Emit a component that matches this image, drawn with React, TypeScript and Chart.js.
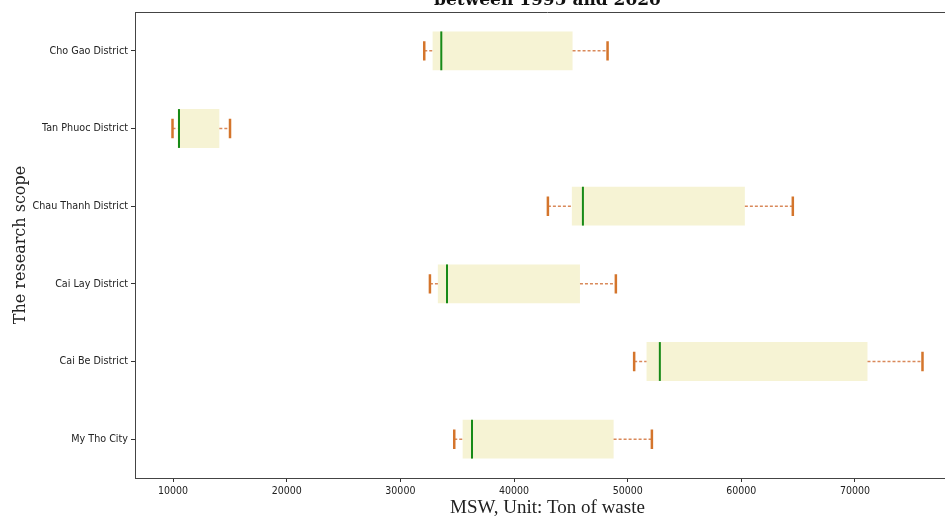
import React, { useEffect, useRef } from "react";
import { Chart, registerables } from "chart.js";

Chart.register(...registerables);

const categories = [
  "Cho Gao District",
  "Tan Phuoc District",
  "Chau Thanh District",
  "Cai Lay District",
  "Cai Be District",
  "My Tho City",
];
const whiskerLow = [32100, 9950, 42980, 32600, 50570, 34740];
const q1 = [32840, 10400, 45090, 33300, 51660, 35480];
const median = [33600, 10520, 46060, 34100, 52830, 36300];
const q3 = [45150, 14070, 60310, 45800, 71100, 48760];
const whiskerHigh = [48230, 15010, 64530, 48960, 75940, 52130];
const xTicks = [10000, 20000, 30000, 40000, 50000, 60000, 70000];

const titleLine = "between 1995 and 2020";
const xTitle = "MSW, Unit: Ton of waste";
const yTitle = "The research scope";

const boxPlugin = {
  id: "boxExtras",
  afterDatasetsDraw(chart: any) {
    const { ctx, scales, chartArea } = chart;
    const x = scales.x;
    const y = scales.y;
    const meta = chart.getDatasetMeta(0);
    ctx.save();
    categories.forEach((_, i) => {
      const bar = meta.data[i];
      const half = bar ? bar.height / 2 : 20;
      const cy = y.getPixelForValue(i);
      const xl = x.getPixelForValue(whiskerLow[i]);
      const x1 = x.getPixelForValue(q1[i]);
      const x3 = x.getPixelForValue(q3[i]);
      const xh = x.getPixelForValue(whiskerHigh[i]);
      const xm = x.getPixelForValue(median[i]);
      ctx.strokeStyle = "#d9895a";
      ctx.lineWidth = 1.5;
      ctx.setLineDash([3, 2]);
      ctx.beginPath();
      ctx.moveTo(xl, cy);
      ctx.lineTo(x1, cy);
      ctx.moveTo(x3, cy);
      ctx.lineTo(xh, cy);
      ctx.stroke();
      ctx.setLineDash([]);
      ctx.strokeStyle = "#d4752c";
      ctx.lineWidth = 2.5;
      ctx.beginPath();
      ctx.moveTo(xl, cy - half / 2);
      ctx.lineTo(xl, cy + half / 2);
      ctx.moveTo(xh, cy - half / 2);
      ctx.lineTo(xh, cy + half / 2);
      ctx.stroke();
      ctx.strokeStyle = "#178a17";
      ctx.lineWidth = 2;
      ctx.beginPath();
      ctx.moveTo(xm, cy - half);
      ctx.lineTo(xm, cy + half);
      ctx.stroke();
    });
    ctx.strokeStyle = "#444";
    ctx.lineWidth = 1;
    ctx.beginPath();
    ctx.moveTo(chartArea.left, chartArea.top + 0.5);
    ctx.lineTo(chartArea.right, chartArea.top + 0.5);
    ctx.moveTo(chartArea.right - 0.5, chartArea.top);
    ctx.lineTo(chartArea.right - 0.5, chartArea.bottom);
    ctx.stroke();
    ctx.fillStyle = "#111";
    ctx.font = "bold 17px 'DejaVu Serif'";
    ctx.textAlign = "center";
    ctx.textBaseline = "alphabetic";
    ctx.fillText(titleLine, (chartArea.left + chartArea.right) / 2, 5);
    ctx.restore();
  },
};

export default function App() {
  const ref = useRef<HTMLCanvasElement | null>(null);
  useEffect(() => {
    if (!ref.current) return;
    const chart = new Chart(ref.current, {
      type: "bar",
      data: {
        labels: categories,
        datasets: [
          {
            data: categories.map((_, i) => [q1[i], q3[i]]) as any,
            backgroundColor: "rgba(238,232,170,0.5)",
            borderWidth: 0,
            barPercentage: 0.5,
            categoryPercentage: 1,
          },
        ],
      },
      options: {
        indexAxis: "y",
        animation: false,
        responsive: false,
        layout: { padding: { left: 0, right: 2, top: 12, bottom: 0 } },
        plugins: {
          legend: { display: false },
          tooltip: { enabled: false },
          title: { display: false },
        },
        scales: {
          x: {
            type: "linear",
            min: 6650,
            max: 79240,
            afterBuildTicks: (scale: any) => {
              scale.ticks = xTicks.map((v) => ({ value: v }));
            },
            afterFit: (scale: any) => {
              scale.height = 41;
            },
            ticks: {
              color: "#222",
              font: { family: "'DejaVu Sans Condensed', 'DejaVu Sans'", size: 10.5 },
              padding: 3,
              maxRotation: 0,
              callback: (v: any) => String(v),
            },
            grid: {
              display: true,
              drawOnChartArea: false,
              drawTicks: true,
              tickLength: 4,
              color: "#333",
            },
            border: { display: true, color: "#444", width: 1 },
            title: {
              display: true,
              text: xTitle,
              color: "#222",
              font: { family: "'Liberation Serif'", size: 19 },
              padding: { top: 0, bottom: 0 },
            },
          },
          y: {
            type: "category",
            afterFit: (scale: any) => {
              scale.width = 135;
            },
            ticks: {
              color: "#222",
              font: { family: "'DejaVu Sans Condensed', 'DejaVu Sans'", size: 10.7 },
              padding: 3,
            },
            grid: {
              display: true,
              drawOnChartArea: false,
              drawTicks: true,
              tickLength: 4,
              offset: false,
              color: "#333",
            },
            border: { display: true, color: "#444", width: 1 },
            title: {
              display: true,
              text: yTitle,
              color: "#222",
              font: { family: "'DejaVu Serif'", size: 16 },
              padding: { top: 11, bottom: 0 },
            },
          },
        },
      },
      plugins: [boxPlugin],
    });
    return () => chart.destroy();
  }, []);
  return (
    <div
      style={{
        position: "absolute",
        left: 0,
        top: 0,
        width: 945,
        height: 516,
        overflow: "hidden",
      }}
    >
      <canvas
        ref={ref}
        width={962}
        height={519}
        style={{ display: "block", width: 962, height: 519 }}
      />
    </div>
  );
}
